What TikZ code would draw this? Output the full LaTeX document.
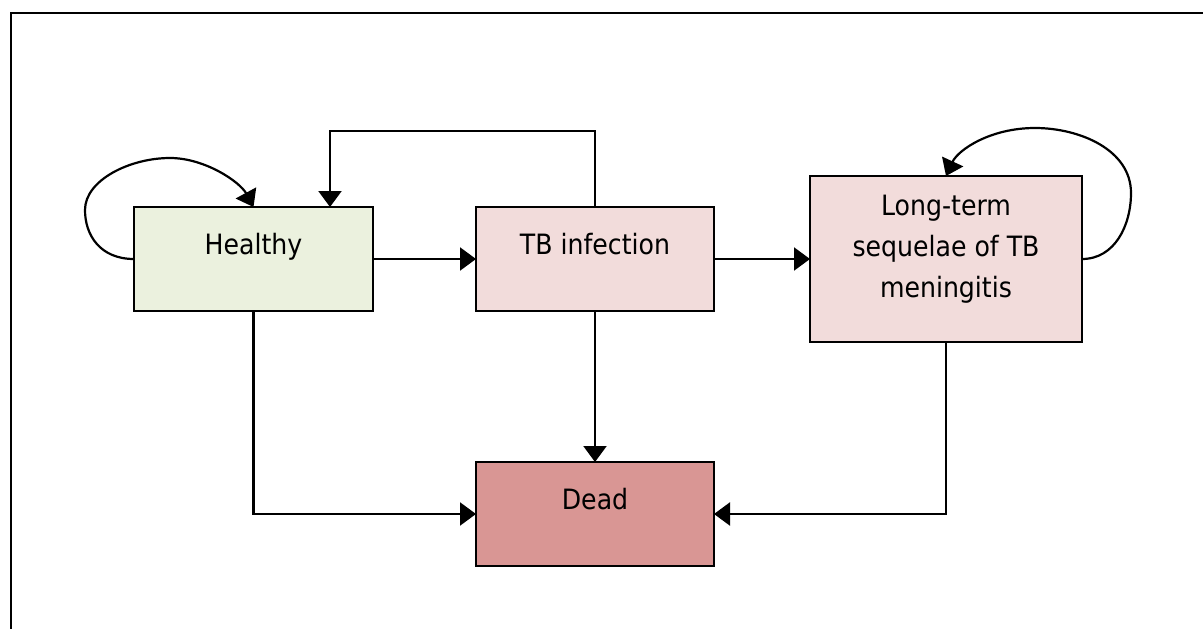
\documentclass[tikz,border=0pt]{standalone}
\usepackage{fontspec}
\setmainfont{DejaVu Sans Condensed}
\usetikzlibrary{arrows.meta}
\begin{document}
\begin{tikzpicture}[x=1pt,y=-1pt,
  box/.style={draw=black, line width=1.6pt, inner sep=0pt, outer sep=0pt},
  conn/.style={line width=2.2pt, -{Triangle[length=16pt,width=23pt]}},
  lbl/.style={anchor=base, inner sep=0pt, font=\fontsize{28}{41}\selectfont, align=center}]
\useasboundingbox (0,0) rectangle (1203,629);
\fill[white] (0,0) rectangle (1203,629);
\draw[line width=2.2pt] (11,629) -- (11,12.8) -- (1203,12.8);

\definecolor{hgreen}{HTML}{EBF1DE}
\definecolor{tbpink}{HTML}{F2DCDB}
\definecolor{deadred}{HTML}{D99694}

\node[box, fill=hgreen, minimum width=239pt, minimum height=104pt] (healthy) at (253.5,259) {};
\node[box, fill=tbpink, minimum width=238pt, minimum height=104pt] (tb) at (595,259) {};
\node[box, fill=tbpink, minimum width=272pt, minimum height=166pt] (long) at (946,259) {};
\node[box, fill=deadred, minimum width=238pt, minimum height=104pt] (dead) at (595,514) {};

\node[lbl] (thealthy) at (253.5,254) {Healthy};
\node[lbl] (ttb) at (595,254) {TB infection};
\node[lbl] (tlong) at (946,297) {Long-term\\sequelae of TB\\meningitis};
\node[lbl] (tdead) at (595,509) {Dead};

\coordinate (ttop) at (595,131);
\coordinate (htop) at (330,131);
\coordinate (hbot) at (253.5,514);
\coordinate (lbot) at (946,514);

\draw[conn] (healthy.east) -- (tb.west);
\draw[conn] (tb.east) -- (long.west);
\draw[conn] (tb.north) -- (ttop) -- (htop) -- (htop |- healthy.north);
\draw[conn] (tb.south) -- (dead.north);
\draw[conn] (healthy.south) -- (hbot) -- (dead.west);
\draw[conn] (long.south) -- (lbot) -- (dead.east);

\draw[conn] (healthy.west) .. controls (100,259) and (85,235) .. (85,210)
  .. controls (85,180) and (130,158) .. (170,158)
  .. controls (205,158) and (240,182) .. (253.5,207);
\draw[conn] (long.east) .. controls (1115,259) and (1131,225) .. (1131,193)
  .. controls (1131,150) and (1080,128) .. (1035,128)
  .. controls (990,128) and (958,150) .. (946,176);
\end{tikzpicture}
\end{document}
